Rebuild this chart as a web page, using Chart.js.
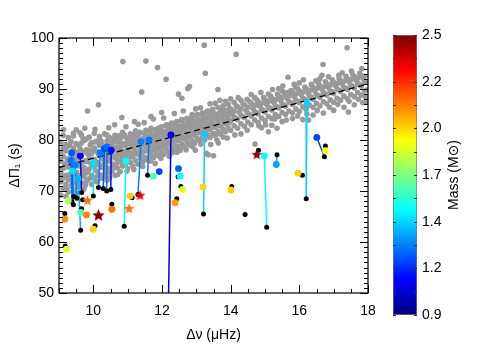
<!DOCTYPE html>
<html><head><meta charset="utf-8">
<script src="https://cdn.jsdelivr.net/npm/chart.js@4/dist/chart.umd.min.js"></script>
<style>
html,body{margin:0;padding:0;background:#fff;}
#wrap{position:relative;width:491px;height:350px;}
canvas{position:absolute;left:0;top:0;}
</style>
</head><body>
<div id="wrap"><canvas id="main" width="491" height="350"></canvas><canvas id="cbar" width="491" height="350"></canvas></div>
<script>
// ---------- DATA ----------
// gray cloud: column x positions and the y values read in each column
const grayColX = [9.05,9.12,9.2,9.27,9.35,9.42,9.5,9.58,9.65,9.73,9.8,9.88,9.95,10.03,10.1,10.18,10.25,10.33,10.4,10.48,10.55,10.63,10.7,10.78,10.85,10.93,11.0,11.08,11.15,11.23,11.3,11.38,11.45,11.53,11.6,11.68,11.75,11.83,11.9,11.98,12.05,12.13,12.2,12.28,12.35,12.43,12.5,12.58,12.65,12.73,12.8,12.88,12.95,13.03,13.1,13.18,13.25,13.33,13.4,13.48,13.55,13.63,13.7,13.78,13.85,13.93,14.0,14.1,14.2,14.3,14.4,14.5,14.6,14.7,14.8,14.9,15.0,15.1,15.2,15.3,15.4,15.5,15.6,15.7,15.8,15.9,16.0,16.1,16.2,16.3,16.4,16.5,16.6,16.7,16.8,16.9,17.0,17.1,17.2,17.3,17.4,17.5,17.6,17.7,17.8,17.9];
const grayColY = [
[69.2,71.8,73.5,75.9,77.4,79.6],[70.5,72.6,74.4,76.8,78.3,80.9],[68.9,71.3,73.1,75.2,77.9,79.1],[69.8,72.2,74.7,76.3,78.8,80.5],
[71.0,73.4,75.6,77.2,79.7],[70.2,72.5,74.1,76.6,78.4,80.8],[69.6,71.9,73.7,75.8,77.6,79.3],[70.8,73.0,74.9,77.0,78.9],
[71.6,73.2,75.5,76.9,79.4,81.0],[70.4,72.8,74.6,77.7,79.9],[71.9,73.6,75.8,78.1,80.2],[72.4,74.3,76.7,77.9,80.6],
[71.3,73.1,75.2,77.3,79.5],[72.7,74.8,76.2,78.4,81.3],[71.8,73.9,75.7,77.8,79.8],[73.2,75.1,76.9,78.9,80.7],
[72.5,74.6,77.4,79.2],[73.4,75.5,76.8,78.7,81.2],[72.1,74.2,77.6,79.8],[73.6,75.9,76.7,78.5,80.4],
[74.0,75.3,77.9,79.4],[73.1,74.8,76.5,78.3,80.9],[74.5,76.1,77.8,79.6],[73.8,75.7,78.4,80.2],
[74.9,76.6,77.5,79.3,81.5],[75.2,77.0,78.9,80.6],[74.4,76.3,78.2,79.7],[75.6,77.3,79.1,81.2],
[74.9,76.8,78.7,80.4],[76.0,77.6,79.5,81.8],[75.3,77.2,78.9,80.6],[76.4,78.1,79.9,81.4],
[75.8,77.7,80.3],[76.6,78.5,79.8,81.9],[76.1,77.9,80.7],[77.0,78.8,80.1,82.3],
[76.5,78.3,81.0],[77.4,79.2,80.5,82.1],[76.9,78.6,81.3],[77.7,79.5,80.8,82.6],
[77.2,79.0,81.6],[78.1,79.8,81.1,83.0],[77.6,79.3,82.0],[78.5,80.2,81.5,83.3],
[78.0,79.7,82.4],[78.8,80.5,81.9,83.6],[78.3,80.1,82.7],[79.2,80.9,82.2,84.0],
[78.7,80.4,83.1],[79.6,81.3,82.5,84.2],[79.0,80.8,83.4],[79.9,81.6,82.9,84.6],
[79.4,81.1,83.7],[80.3,82.0,83.3,85.0],[79.8,81.5,84.0],[80.6,82.4,83.6,85.3],
[80.1,81.9,84.4],[81.0,82.7,84.0,85.7],[80.5,82.2,84.8],[81.3,83.1,84.3,86.0],
[80.9,82.6,85.1],[81.7,83.4,84.7,86.4],[81.2,82.9,85.4],[82.1,83.8,85.0,86.7],
[81.6,83.3,85.8],[82.4,84.1,85.4,87.0],[81.9,83.7,86.1],[82.8,84.5,85.7,87.4],
[82.3,84.0,86.5],[83.2,84.9,86.1,87.8],[82.7,84.4,86.9],[83.5,85.3,86.4],
[83.0,84.7,87.2],[83.9,85.6,86.8,88.3],[83.4,85.1,87.5],[84.3,86.0,87.2],
[83.8,85.5,87.9],[84.6,86.4,87.6,89.0],[84.2,85.9,88.2],[85.0,86.7,87.9],
[84.6,86.3,88.6],[85.4,87.1,88.3,89.6],[85.0,86.6,88.9],[85.7,87.5,88.7],
[85.3,87.0,89.3],[86.1,87.8,89.0,90.3],[85.6,87.3,89.6],[86.5,88.2,89.4],
[86.0,87.7,90.0],[86.8,88.6,89.7],[86.4,88.0,90.3],[87.2,88.9,90.1],
[86.7,88.4,90.6],[87.5,89.3,90.4],[87.1,88.8,91.0],[87.9,89.6,90.8],
[87.4,89.1,91.3],[88.2,90.0,91.1],[87.8,89.5,91.6],[88.6,90.3,91.5],
[88.1,89.9,92.0],[88.9,90.7,91.8],[88.5,90.2,92.3],[89.3,91.0,92.1],
[88.8,90.6,92.6],[89.6,91.4,92.5]
];
// more band points read between the columns
const grayBand = [[9.02,74.1],[9.08,76.9],[9.09,72.3],[9.15,78.6],[9.16,75.3],[9.22,70.4],[9.24,76.1],[9.3,73.2],[9.31,79.1],[9.38,74.6],[9.39,71.5],[9.45,77.7],[9.46,73.4],[9.53,70.9],[9.54,76.4],[9.6,72.1],[9.62,78.2],[9.68,74.0],[9.7,80.3],[9.76,75.9],[9.77,71.2],[9.84,77.3],[9.85,73.9],[9.91,79.0],[9.92,75.5],[9.99,72.6],[10.0,77.9],[10.06,75.3],[10.07,79.6],[10.14,73.1],[10.15,77.2],[10.21,74.9],[10.22,79.9],[10.29,76.2],[10.3,72.9],[10.36,78.1],[10.37,74.7],[10.44,76.3],[10.45,80.6],[10.51,74.4],[10.52,78.9],
[10.59,76.9],[10.6,80.1],[10.66,75.2],[10.67,78.6],[10.74,77.1],[10.75,80.8],[10.81,76.0],[10.82,79.0],[10.89,77.8],[10.9,81.0],[10.96,76.3],[10.97,79.4],[11.04,77.6],[11.05,80.5],[11.11,76.7],[11.12,79.8],[11.19,78.1],[11.2,81.1],[11.26,77.3],[11.27,80.3],[11.34,78.6],[11.35,81.5],[11.41,77.1],[11.42,80.0],[11.49,79.0],[11.5,81.2],[11.56,77.9],[11.57,80.6],[11.64,79.3],[11.65,81.6],[11.71,78.0],[11.72,80.9],[11.79,79.6],[11.8,82.0],[11.86,78.4],[11.87,81.2],[11.94,80.0],[11.95,82.4],[12.01,78.7],[12.02,81.5],[12.09,80.4],[12.1,82.8],[12.16,79.1],[12.17,81.9],[12.24,80.8],[12.25,83.0],[12.31,79.5],[12.32,82.2],[12.39,81.1],[12.4,83.4],[12.46,79.9],[12.47,82.6],[12.54,81.5],[12.55,83.8],[12.61,80.3],[12.62,82.9],[12.69,81.8],[12.7,84.1],[12.76,80.6],[12.77,83.3],[12.84,82.2],[12.85,84.4],[12.91,81.0],[12.92,83.6],[12.99,82.5],[13.0,84.8],[13.06,81.4],[13.07,84.0],[13.14,82.8],[13.15,85.1],[13.21,81.7],[13.22,84.3],[13.29,83.2],[13.3,85.5],[13.36,82.1],[13.37,84.6],[13.44,83.5],[13.45,85.8],
[13.52,82.5],[13.53,85.0],[13.6,83.9],[13.66,82.8],[13.67,85.3],[13.75,84.2],[13.81,83.2],[13.82,85.7],[13.9,84.6],[13.96,83.5],[13.97,86.0],[14.05,85.0],[14.15,84.2],[14.16,86.7],[14.25,85.4],[14.35,84.6],[14.36,87.1],[14.45,85.8],[14.55,85.0],[14.56,87.5],[14.65,86.2],[14.75,85.4],[14.76,87.9],[14.85,86.6],[14.95,85.8],[14.96,88.3],[15.05,87.0],[15.15,86.2],[15.16,88.6],[15.25,87.4],[15.35,86.5],[15.36,89.0],[15.45,87.8],[15.55,86.9],[15.56,89.3],[15.65,88.1],[15.75,87.3],[15.76,89.7],[15.85,88.5],[15.95,87.6],[15.96,90.0],[16.05,88.9],[16.15,88.0],[16.16,90.4],[16.25,89.2],[16.35,88.4],[16.36,90.7],[16.45,89.6],[16.55,88.7],[16.56,91.1],[16.65,90.0],[16.75,89.1],[16.76,91.4],[16.85,90.3],[16.95,89.5],[16.96,91.8],[17.05,90.7],[17.15,89.8],[17.16,92.1],[17.25,91.0],[17.35,90.2],[17.36,92.5],[17.45,91.4],[17.55,90.6],[17.56,92.8],[17.65,91.7],[17.75,90.9],[17.76,93.1],[17.85,92.1],[17.95,91.3],[17.96,89.8]];
// ragged edges of the band, below and above
const grayFringe = [[10.12,71.9],[10.47,72.6],[10.71,73.2],[10.98,73.9],[11.18,74.2],[11.44,74.8],[11.66,75.9],[11.97,76.4],[12.21,76.8],[12.44,77.6],[12.7,78.1],[12.97,78.0],[13.13,79.2],[13.42,79.1],[13.78,80.6],[14.12,81.0],[14.48,81.9],[14.82,82.8],[15.02,83.0],[15.28,84.1],[15.62,83.9],[15.95,84.7],[16.22,85.1],[16.52,85.8],[16.88,86.4],[17.12,87.0],[17.45,87.6],[17.72,88.0],[17.97,87.6],
[10.05,82.1],[10.45,82.4],[10.62,83.0],[10.95,82.6],[11.2,83.6],[11.48,83.4],[11.68,84.6],[12.05,84.3],[12.36,85.2],[12.62,85.7],[12.88,85.0],[13.12,86.3],[13.55,87.2],[13.85,87.6],[14.22,88.3],[14.48,88.0],[14.88,89.3],[15.22,89.9],[15.52,90.6],[15.85,90.9],[16.12,91.8],[16.48,91.6],[16.85,92.4],[17.25,93.2],[17.52,93.5],[17.82,94.0],[9.5,82.0],[9.75,82.3]];
// scattered gray points away from the dense band
const grayExtra = [[13.23,98.6],[10.86,95.4],[11.53,95.5],[11.87,94.2],[12.12,91.9],[13.26,93.1],[11.41,89.4],[12.48,89.0],[12.58,88.2],[12.75,90.1],[12.98,86.1],[13.63,89.9],[9.83,85.7],[10.15,86.9],[10.83,84.4],[11.99,85.4],[11.31,83.1],[11.75,84.1],[9.13,82.0],[9.42,81.3],[9.61,81.4],[13.5,76.9],[14.16,96.8],[17.39,98.1],[16.69,94.8],[16.66,92.7],[15.67,92.3],[12.8,90.5],[13.69,87.8],[13.74,85.9],[16.35,90.9],[17.63,92.3],[15.68,89.3],[14.83,86.7],[17.92,88.5],[15.35,82.3],[14.71,79.2],[17.43,85.5],[16.27,83.9],[15.1,81.6],[13.35,77.1],[13.64,79.4],[12.53,78.0],[13.29,77.4],[12.9,78.7],[10.39,81.0],[10.73,80.6],[11.8,75.4],[11.9,82.3],[15.5,83.6],[15.8,84.2],[16.1,84.0],[16.4,84.9],[16.7,85.3],[17.0,85.8],[17.3,86.4],[17.6,86.9],[17.85,87.3],[14.9,82.4],[15.2,82.9],[14.3,81.2],[13.6,80.0],[13.9,80.4],[12.3,77.5],[15.4,90.1],[16.0,91.2],[16.6,92.0],[17.15,92.7],[14.6,88.9],[14.0,88.1],[13.4,87.1]];

// dashed trend line
const trendX = [9, 18];
const trendY = [74.6, 91.0];

// connected pairs: coloured point -> black point
const pairTopX = [9.37,9.62,9.35,9.47,9.40,9.56,10.0,10.2,10.32,10.40,10.52,10.95,11.39,11.62,12.26,13.24,14.98,15.33,16.22,16.51];
const pairTopY = [77.5,76.9,76.0,75.1,73.9,72.4,75.4,77.5,78.3,78.7,78.0,75.9,79.7,80.0,81.0,81.0,76.9,75.2,87.3,80.5];
const pairBotX = [9.42,9.66,9.38,9.52,9.43,9.63,10.0,10.15,10.29,10.39,10.51,10.9,11.3,11.58,12.16,13.21,15.05,15.35,16.2,16.73];
const pairBotY = [67.3,69.7,67.9,68.6,68.9,62.3,69.0,70.7,70.5,70.0,70.3,63.1,69.3,73.1,35.0,65.5,62.9,77.1,68.5,76.7];
const pairMass = [1.25,1.08,1.28,1.30,1.45,1.38,1.45,1.30,1.22,1.28,1.12,1.50,1.30,1.28,1.05,1.43,1.50,1.35,1.43,1.20];

// single coloured points
const soloX = [9.27,9.63,9.8,9.17,10.0,9.22,10.54,11.07,11.75,11.92,12.48,12.53,12.6,12.38,13.19,14.01,15.96,16.76];
const soloY = [68.1,65.8,65.3,64.5,62.5,58.6,66.4,69.0,72.9,73.8,74.4,72.9,70.3,67.7,70.8,70.2,73.5,77.9];
const soloMass = [1.78,1.62,2.10,2.08,1.97,1.85,2.12,1.98,1.62,1.20,1.25,1.50,1.85,2.05,1.97,1.98,1.98,1.88];

// other black points
const blackX = [9.66,9.17,10.05,9.18,10.54,11.13,12.47,12.55,12.43,14.03,16.09,16.76,14.42,14.81,9.69];
const blackY = [66.5,65.6,63.2,59.2,67.4,68.7,72.8,70.9,68.5,70.9,73.1,78.8,65.4,78.0,68.3];

// stars
const starX = [9.83,10.15,11.36,11.04,14.76];
const starY = [68.2,65.3,69.2,66.6,77.2];
const starMass = [2.12,2.50,2.32,2.12,2.48];

// axes
const xMin = 9, xMax = 18, yMin = 50, yMax = 100;
const xTicks = [10,12,14,16,18];
const yTicks = [50,60,70,80,90,100];
const xMinorStep = 0.5, yMinorStep = 1;
const massMin = 0.9, massMax = 2.5, massSteps = 6;

// ---------- STYLE HELPERS ----------
function clamp01(v){return Math.max(0,Math.min(1,v));}
function jet(m){
  const t = clamp01((m-massMin)/(massMax-massMin));
  const r = clamp01(1.5-Math.abs(4*t-3)), g = clamp01(1.5-Math.abs(4*t-2)), b = clamp01(1.5-Math.abs(4*t-1));
  return 'rgb('+Math.round(r*255)+','+Math.round(g*255)+','+Math.round(b*255)+')';
}
function starImage(color, r){
  const c = document.createElement('canvas'); const s = Math.ceil(2*r+2); c.width = s; c.height = s;
  const g = c.getContext('2d'); g.translate(s/2, s/2+0.5); g.beginPath();
  for (let i=0;i<10;i++){ const rr = i%2 ? r*0.45 : r; const a = -Math.PI/2 + i*Math.PI/5; g.lineTo(rr*Math.cos(a), rr*Math.sin(a)); }
  g.closePath(); g.fillStyle = color; g.fill(); return c;
}

Chart.defaults.font.family = "'Liberation Sans', Arial, sans-serif";
Chart.defaults.font.size = 14;
Chart.defaults.color = '#000';

// ---------- MAIN CHART ----------
const grayPts = [];
grayColX.forEach((x,i)=>grayColY[i].forEach(y=>grayPts.push({x,y})));
grayBand.forEach(p=>grayPts.push({x:p[0],y:p[1]}));
grayFringe.forEach(p=>grayPts.push({x:p[0],y:p[1]}));
grayExtra.forEach(p=>grayPts.push({x:p[0],y:p[1]}));

const datasets = [];
datasets.push({data: grayPts, pointRadius: 2.8, backgroundColor: '#999999', borderWidth: 0, order: 10});
datasets.push({data: trendX.map((x,i)=>({x, y: trendY[i]})), showLine: true, pointRadius: 0, borderColor: '#000', borderWidth: 1.3, borderDash: [6,4], order: 9});
pairTopX.forEach((x,i)=>{
  datasets.push({data: [{x, y: pairTopY[i]}, {x: pairBotX[i], y: pairBotY[i]}], showLine: true, pointRadius: 0, borderColor: jet(pairMass[i]), borderWidth: 1.5, order: 8});
});
const blackPts = pairBotX.map((x,i)=>({x, y: pairBotY[i]})).concat(blackX.map((x,i)=>({x, y: blackY[i]})));
datasets.push({data: blackPts, pointRadius: 2.5, backgroundColor: '#000', borderWidth: 0, order: 3});
const colPts = pairTopX.map((x,i)=>({x, y: pairTopY[i]})).concat(soloX.map((x,i)=>({x, y: soloY[i]})));
const colCols = pairMass.map(jet).concat(soloMass.map(jet));
datasets.push({data: colPts, pointRadius: 3.4, backgroundColor: colCols, borderWidth: 0, order: 2});
const starImgs = starMass.map((m,i)=>starImage(jet(m), i===1 ? 6.5 : 5.5));
datasets.push({data: starX.map((x,i)=>({x, y: starY[i]})), pointStyle: starImgs, pointRadius: 6, order: 1});

const boxPlugin = {
  id: 'boxPlugin',
  afterDraw(chart){
    const {ctx, chartArea: a} = chart; const sx = chart.scales.x, sy = chart.scales.y;
    ctx.save(); ctx.strokeStyle = '#000'; ctx.lineWidth = 1.2;
    ctx.strokeRect(a.left, a.top, a.right-a.left, a.bottom-a.top);
    ctx.lineWidth = 1; ctx.beginPath();
    for (let k=0; xMin + k*xMinorStep <= xMax + 1e-9; k++){
      const v = xMin + k*xMinorStep; const p = Math.round(sx.getPixelForValue(v))+0.5;
      const L = xTicks.some(t=>Math.abs(t-v)<1e-6) ? 8 : 4;
      ctx.moveTo(p, a.bottom); ctx.lineTo(p, a.bottom-L); ctx.moveTo(p, a.top); ctx.lineTo(p, a.top+L);
    }
    for (let k=0; yMin + k*yMinorStep <= yMax + 1e-9; k++){
      const v = yMin + k*yMinorStep; const p = Math.round(sy.getPixelForValue(v))+0.5;
      const L = yTicks.some(t=>Math.abs(t-v)<1e-6) ? 8 : 4;
      ctx.moveTo(a.left, p); ctx.lineTo(a.left+L, p); ctx.moveTo(a.right, p); ctx.lineTo(a.right-L, p);
    }
    ctx.stroke(); ctx.restore();
  }
};

new Chart(document.getElementById('main'), {
  type: 'scatter',
  data: {datasets},
  plugins: [boxPlugin],
  options: {
    responsive: false, animation: false, events: [],
    layout: {padding: {left: 0, top: 38, right: 123, bottom: 0}},
    plugins: {legend: {display: false}, tooltip: {enabled: false}},
    scales: {
      x: {type: 'linear', min: xMin, max: xMax,
          afterBuildTicks: s => { s.ticks = xTicks.map(v=>({value: v})); },
          afterFit: s => { s.height = 57; },
          grid: {display: false, drawTicks: false}, border: {display: false},
          ticks: {padding: 10, maxRotation: 0, callback: v => String(v)},
          title: {display: true, text: 'Δν (μHz)', padding: {top: 0, bottom: 6}}},
      y: {type: 'linear', min: yMin, max: yMax,
          afterBuildTicks: s => { s.ticks = yTicks.map(v=>({value: v})); },
          afterFit: s => { s.width = 59; },
          grid: {display: false, drawTicks: false}, border: {display: false},
          ticks: {padding: 5, callback: v => String(v)},
          title: {display: true, text: 'ΔΠ₁ (s)', padding: {top: 7, bottom: 0}}}
    }
  }
});

// ---------- COLOUR BAR ----------
const cbarPlugin = {
  id: 'cbarPlugin',
  afterDraw(chart){
    const {ctx, chartArea: a} = chart; const sy = chart.scales.y;
    ctx.save(); ctx.strokeStyle = '#333'; ctx.lineWidth = 1; ctx.beginPath();
    for (let k=0; k<=massSteps*2; k++){
      const v = massMin + k*(massMax-massMin)/(massSteps*2); const p = Math.round(sy.getPixelForValue(v))+0.5;
      ctx.moveTo(a.left, p); ctx.lineTo(a.left+3, p); ctx.moveTo(a.right, p); ctx.lineTo(a.right-3, p);
    }
    ctx.stroke();
    ctx.translate(454, (a.top+a.bottom)/2); ctx.rotate(-Math.PI/2);
    ctx.fillStyle = '#000'; ctx.font = "14px 'Liberation Sans', 'DejaVu Sans', sans-serif";
    ctx.textAlign = 'center'; ctx.textBaseline = 'middle';
    ctx.fillText('Mass (M⊙)', 0, 0);
    ctx.restore();
  }
};

new Chart(document.getElementById('cbar'), {
  type: 'bar',
  data: {labels: [''], datasets: [{
    data: [[massMin, massMax]],
    backgroundColor: ctx => {
      const a = ctx.chart.chartArea; if (!a) return '#888';
      const g = ctx.chart.ctx.createLinearGradient(0, a.bottom, 0, a.top);
      for (let k=0; k<=32; k++){ const t = k/32; g.addColorStop(t, jet(massMin + t*(massMax-massMin))); }
      return g;
    },
    borderColor: '#777', borderWidth: 1, borderSkipped: false,
    barPercentage: 1, categoryPercentage: 1
  }]},
  plugins: [cbarPlugin],
  options: {
    responsive: false, animation: false, events: [],
    layout: {padding: {left: 393, top: 35, right: 0, bottom: 35}},
    plugins: {legend: {display: false}, tooltip: {enabled: false}},
    scales: {
      x: {display: false},
      y: {position: 'right', min: massMin, max: massMax,
          afterBuildTicks: s => { const t=[]; for (let k=0;k<=massSteps;k++) t.push({value: massMin + k*(massMax-massMin)/massSteps}); s.ticks = t; },
          afterFit: s => { s.width = 74; },
          grid: {display: false, drawTicks: false}, border: {display: false},
          ticks: {padding: 5, callback: v => Number(v).toFixed(1)}}
    }
  }
});
</script>
</body></html>
